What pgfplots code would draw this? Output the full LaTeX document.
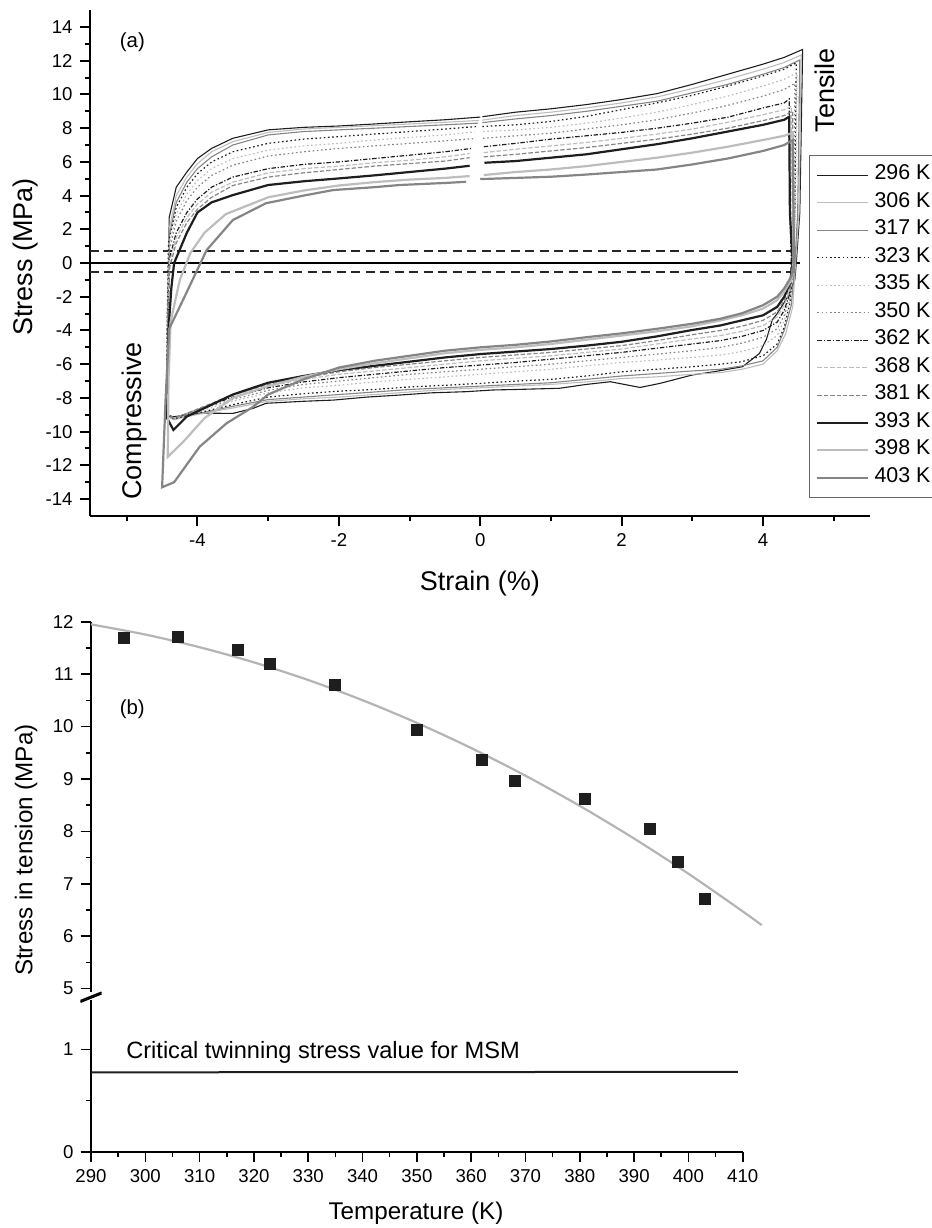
\documentclass[border=0pt]{standalone}
\usepackage{pgfplots}
\pgfplotsset{compat=1.18}
\usepackage{fontspec}
\setmainfont{Liberation Sans}
\definecolor{cdark}{HTML}{1E1E1E}
\definecolor{clight}{HTML}{BDBDBD}
\definecolor{cmid}{HTML}{858585}
\definecolor{cfit}{HTML}{B4B4B4}
\begin{document}
\begin{tikzpicture}
\pgfplotsset{
  every axis/.append style={
    scale only axis,
    /pgf/number format/assume math mode=true,
    tick label style={font=\fontsize{9.3}{11}\selectfont},
    tick align=outside,
    major tick length=5.2pt,
    minor tick length=2.7pt,
  },
}
% ---------------- panel (a) ----------------
\begin{axis}[
  name=A, at={(45pt,-257.95pt)}, anchor=south west,
  width=389.9pt, height=252.86pt,
  xmin=-5.52, xmax=5.51, ymin=-15, ymax=15,
  axis x line*=bottom, axis y line*=left,
  axis line style={line width=1.1pt},
  tick style={line width=1pt, black},
  xtick={-4,-2,0,2,4}, minor xtick={-5,-3,-1,1,3,5},
  ytick={-14,-12,...,14}, minor y tick num=1,
  xlabel={Strain (\%)}, ylabel={Stress (MPa)},
  label style={font=\fontsize{13.5}{16}\selectfont},
  xlabel style={at={(axis description cs:0.5,-0.1327)}, anchor=center},
  ylabel style={at={(axis description cs:-0.0830,0.512)}, anchor=center},
  clip=false,
  legend cell align=left,
  legend image code/.code={\draw[#1] (0pt,0pt) -- (25.5pt,0pt);},
  legend style={at={(0.9218,0.7135)}, anchor=north west,
    draw=black!60, line width=0.5pt, fill=white,
    font=\fontsize{10.7}{12}\selectfont,
    inner xsep=3.5pt, inner ysep=3pt, row sep=0pt,
    nodes={inner xsep=2.5pt, inner ysep=0pt, text height=9pt, text depth=4.75pt}},
]
\addplot[forget plot, black, line width=0.7pt] coordinates {(-5.52,0) (4.52,0)};
\addplot[forget plot, black!85, line width=1.15pt, dash pattern=on 4.5pt off 2.75pt] coordinates {(-5.52,0.73) (4.52,0.73)};
\addplot[forget plot, black!85, line width=1.15pt, dash pattern=on 4.5pt off 2.75pt] coordinates {(-5.52,-0.52) (4.52,-0.52)};
% 296 K
\addplot[cdark, line width=0.55pt] coordinates {
(0.03,8.68) (0.5,8.95) (1.0,9.15) (1.5,9.40) (2.0,9.70) (2.5,10.05) (3.0,10.60) (3.5,11.20) (4.0,11.80) (4.3,12.20) (4.56,12.67)
(4.52,3.0) (4.47,0.0) (4.45,-1.0) (4.35,-2.0) (4.2,-3.0) (4.13,-3.38) (4.05,-4.5) (3.95,-5.36) (3.71,-6.15) (3.3,-6.45) (3.0,-6.64) (2.54,-7.14) (2.26,-7.38) (1.84,-7.04) (1.5,-7.2) (1.12,-7.43) (0.5,-7.5) (0.18,-7.53) (-0.2,-7.63) (-0.7,-7.7) (-1.14,-7.83) (-1.6,-7.95) (-2.08,-8.13) (-2.5,-8.2) (-3.03,-8.32) (-3.22,-8.63) (-3.5,-8.92) (-3.97,-8.9) (-4.34,-9.12) (-4.44,-9.0)
(-4.42,-4.0) (-4.40,2.7) (-4.3,4.5) (-4.15,5.4) (-4.0,6.2) (-3.8,6.8) (-3.5,7.4) (-3.0,7.9) (-2.5,8.05) (-2.0,8.13) (-1.5,8.25) (-1.0,8.38) (-0.5,8.5) (0.0,8.66)};
\addlegendentry{296 K}
% 306 K
\addplot[clight, line width=0.55pt] coordinates {
(0.03,8.48) (0.5,8.75) (1.0,8.95) (1.5,9.20) (2.0,9.50) (2.5,9.85) (3.0,10.35) (3.5,10.90) (4.0,11.50) (4.3,11.90) (4.54,12.34)
(4.51,3.0) (4.46,0.0) (4.42,-2.6) (4.32,-4.2) (4.2,-5.2) (4.0,-6.0) (3.7,-6.3) (3.4,-6.5) (3.0,-6.6) (2.5,-6.75) (2.0,-6.85) (1.5,-7.05) (1.0,-7.2) (0.5,-7.3) (0.0,-7.4) (-0.5,-7.5) (-1.0,-7.65) (-1.5,-7.8) (-2.0,-7.95) (-2.5,-8.05) (-3.0,-8.2) (-3.5,-8.6) (-3.9,-8.9) (-4.2,-9.15) (-4.33,-9.3) (-4.43,-9.1)
(-4.42,-4.0) (-4.40,2.0) (-4.3,4.0) (-4.15,5.1) (-4.0,5.9) (-3.8,6.6) (-3.5,7.2) (-3.0,7.75) (-2.5,7.95) (-2.0,8.05) (-1.5,8.15) (-1.0,8.25) (-0.5,8.35) (-0.02,8.46)};
\addlegendentry{306 K}
% 317 K
\addplot[cmid, line width=0.55pt] coordinates {
(0.03,8.33) (0.5,8.55) (1.0,8.75) (1.5,9.0) (2.0,9.3) (2.5,9.6) (3.0,10.1) (3.5,10.6) (4.0,11.2) (4.3,11.6) (4.52,12.05)
(4.49,3.0) (4.45,0.0) (4.4,-2.5) (4.3,-4.0) (4.2,-5.0) (4.0,-5.8) (3.7,-6.1) (3.4,-6.3) (3.0,-6.4) (2.5,-6.55) (2.0,-6.7) (1.5,-6.9) (1.0,-7.1) (0.5,-7.2) (0.0,-7.3) (-0.5,-7.4) (-1.0,-7.5) (-1.5,-7.65) (-2.0,-7.8) (-2.5,-7.95) (-3.0,-8.1) (-3.5,-8.5) (-3.9,-8.85) (-4.2,-9.1) (-4.33,-9.25) (-4.43,-9.0)
(-4.42,-4.0) (-4.40,1.6) (-4.3,3.6) (-4.15,4.8) (-4.0,5.6) (-3.8,6.3) (-3.5,7.0) (-3.0,7.6) (-2.5,7.8) (-2.0,7.9) (-1.5,8.0) (-1.0,8.1) (-0.5,8.2) (-0.03,8.3)};
\addlegendentry{317 K}
% 323 K
\addplot[cdark, line width=0.6pt, dash pattern=on 0.8pt off 1.3pt] coordinates {
(0.03,8.1) (0.5,8.2) (1.0,8.4) (1.5,8.7) (2.0,9.1) (2.5,9.5) (3.0,9.95) (3.5,10.5) (4.0,11.1) (4.3,11.5) (4.47,11.88)
(4.45,3.0) (4.43,0.0) (4.38,-2.4) (4.3,-3.8) (4.2,-4.8) (4.0,-5.5) (3.7,-5.85) (3.4,-6.0) (3.0,-6.15) (2.5,-6.3) (2.0,-6.45) (1.5,-6.7) (1.0,-6.9) (0.5,-7.0) (0.0,-7.14) (-0.5,-7.25) (-1.0,-7.35) (-1.5,-7.5) (-2.0,-7.6) (-2.5,-7.75) (-3.0,-7.95) (-3.5,-8.4) (-3.9,-8.8) (-4.2,-9.1) (-4.33,-9.25) (-4.44,-9.0)
(-4.43,-4.0) (-4.41,1.2) (-4.3,3.3) (-4.15,4.5) (-4.0,5.3) (-3.8,6.0) (-3.5,6.6) (-3.0,7.1) (-2.5,7.35) (-2.0,7.5) (-1.5,7.65) (-1.0,7.8) (-0.5,7.95) (-0.05,8.1)};
\addlegendentry{323 K}
% 335 K
\addplot[clight, line width=0.6pt, dash pattern=on 0.8pt off 1.3pt] coordinates {
(0.04,7.8) (0.5,7.9) (1.0,8.05) (1.5,8.3) (2.0,8.6) (2.5,8.95) (3.0,9.4) (3.5,9.9) (4.0,10.5) (4.3,10.9) (4.48,11.29)
(4.46,3.0) (4.43,0.0) (4.38,-2.2) (4.3,-3.4) (4.2,-4.3) (4.0,-4.9) (3.7,-5.25) (3.4,-5.45) (3.0,-5.6) (2.5,-5.75) (2.0,-5.9) (1.5,-6.1) (1.0,-6.3) (0.5,-6.45) (0.0,-6.6) (-0.5,-6.75) (-1.0,-6.9) (-1.5,-7.05) (-2.0,-7.25) (-2.5,-7.4) (-3.0,-7.7) (-3.5,-8.2) (-3.9,-8.7) (-4.2,-9.1) (-4.33,-9.25) (-4.44,-9.0)
(-4.43,-4.0) (-4.41,0.8) (-4.3,2.9) (-4.15,4.1) (-4.0,4.9) (-3.8,5.6) (-3.5,6.2) (-3.0,6.7) (-2.5,6.95) (-2.0,7.1) (-1.5,7.3) (-1.0,7.45) (-0.5,7.6) (-0.08,7.78)};
\addlegendentry{335 K}
% 350 K
\addplot[cmid, line width=0.6pt, dash pattern=on 0.8pt off 1.3pt] coordinates {
(0.04,7.4) (0.5,7.55) (1.0,7.7) (1.5,7.95) (2.0,8.2) (2.5,8.5) (3.0,8.9) (3.5,9.35) (4.0,9.9) (4.3,10.3) (4.45,10.66)
(4.44,3.0) (4.42,0.0) (4.38,-2.0) (4.3,-3.1) (4.2,-3.9) (4.0,-4.4) (3.7,-4.75) (3.4,-5.0) (3.0,-5.2) (2.5,-5.4) (2.0,-5.6) (1.5,-5.8) (1.0,-6.0) (0.5,-6.15) (0.0,-6.3) (-0.5,-6.45) (-1.0,-6.6) (-1.5,-6.8) (-2.0,-7.0) (-2.5,-7.2) (-3.0,-7.55) (-3.5,-8.1) (-3.9,-8.6) (-4.2,-9.05) (-4.33,-9.2) (-4.44,-9.0)
(-4.43,-4.0) (-4.41,0.5) (-4.3,2.5) (-4.15,3.7) (-4.0,4.5) (-3.8,5.2) (-3.5,5.8) (-3.0,6.35) (-2.5,6.6) (-2.0,6.8) (-1.5,6.95) (-1.0,7.1) (-0.5,7.25) (-0.1,7.38)};
\addlegendentry{350 K}
% 362 K
\addplot[cdark, line width=0.6pt, dash pattern=on 2.2pt off 0.9pt on 0.6pt off 0.9pt] coordinates {
(0.05,6.9) (0.5,7.1) (1.0,7.35) (1.5,7.55) (2.0,7.75) (2.5,8.0) (3.0,8.3) (3.5,8.65) (4.0,9.2) (4.3,9.5) (4.37,9.73)
(4.38,3.0) (4.4,0.0) (4.38,-1.8) (4.3,-2.8) (4.2,-3.5) (4.0,-4.0) (3.7,-4.35) (3.4,-4.6) (3.0,-4.8) (2.5,-5.05) (2.0,-5.3) (1.5,-5.5) (1.0,-5.7) (0.5,-5.9) (0.0,-6.05) (-0.5,-6.2) (-1.0,-6.4) (-1.5,-6.6) (-2.0,-6.8) (-2.5,-7.05) (-3.0,-7.4) (-3.5,-7.95) (-3.9,-8.55) (-4.2,-9.0) (-4.33,-9.2) (-4.43,-9.0)
(-4.42,-4.0) (-4.4,0.2) (-4.3,1.8) (-4.15,3.0) (-4.0,3.8) (-3.8,4.5) (-3.5,5.1) (-3.0,5.6) (-2.5,5.85) (-2.0,6.0) (-1.5,6.2) (-1.0,6.4) (-0.5,6.6) (-0.12,6.8)};
\addlegendentry{362 K}
% 368 K
\addplot[clight, line width=0.6pt, dash pattern=on 2.2pt off 1pt] coordinates {
(0.05,6.55) (0.5,6.75) (1.0,6.95) (1.5,7.15) (2.0,7.4) (2.5,7.65) (3.0,7.95) (3.5,8.35) (4.0,8.8) (4.3,9.1) (4.4,9.3)
(4.41,3.0) (4.42,0.0) (4.38,-1.6) (4.3,-2.5) (4.2,-3.2) (4.0,-3.7) (3.7,-4.05) (3.4,-4.3) (3.0,-4.5) (2.5,-4.8) (2.0,-5.1) (1.5,-5.3) (1.0,-5.5) (0.5,-5.65) (0.0,-5.8) (-0.5,-6.0) (-1.0,-6.2) (-1.5,-6.4) (-2.0,-6.6) (-2.5,-6.9) (-3.0,-7.3) (-3.5,-7.85) (-3.9,-8.5) (-4.2,-9.0) (-4.33,-9.2) (-4.43,-9.0)
(-4.42,-4.0) (-4.4,0.0) (-4.3,1.5) (-4.15,2.7) (-4.0,3.5) (-3.8,4.2) (-3.5,4.8) (-3.0,5.35) (-2.5,5.6) (-2.0,5.75) (-1.5,5.95) (-1.0,6.1) (-0.5,6.3) (-0.15,6.5)};
\addlegendentry{368 K}
% 381 K
\addplot[cmid, line width=0.6pt, dash pattern=on 2.2pt off 1pt] coordinates {
(0.05,6.3) (0.5,6.45) (1.0,6.65) (1.5,6.85) (2.0,7.1) (2.5,7.35) (3.0,7.65) (3.5,8.0) (4.0,8.45) (4.3,8.75) (4.42,9.0)
(4.43,3.0) (4.43,0.0) (4.38,-1.4) (4.3,-2.2) (4.2,-2.9) (4.0,-3.4) (3.7,-3.75) (3.4,-4.0) (3.0,-4.25) (2.5,-4.6) (2.0,-4.9) (1.5,-5.1) (1.0,-5.3) (0.5,-5.45) (0.0,-5.6) (-0.5,-5.8) (-1.0,-6.0) (-1.5,-6.2) (-2.0,-6.45) (-2.5,-6.8) (-3.0,-7.2) (-3.5,-7.8) (-3.9,-8.5) (-4.2,-9.0) (-4.33,-9.2) (-4.43,-9.0)
(-4.42,-4.0) (-4.39,-0.2) (-4.3,1.2) (-4.15,2.4) (-4.0,3.2) (-3.8,3.9) (-3.5,4.6) (-3.0,5.1) (-2.5,5.35) (-2.0,5.55) (-1.5,5.75) (-1.0,5.9) (-0.5,6.05) (-0.15,6.25)};
\addlegendentry{381 K}
% 393 K
\addplot[cdark, line width=1.1pt] coordinates {
(0.06,5.95) (0.5,6.05) (1.0,6.25) (1.5,6.45) (2.0,6.75) (2.5,7.05) (3.0,7.4) (3.5,7.8) (4.0,8.2) (4.3,8.5) (4.37,8.68)
(4.38,3.0) (4.42,0.0) (4.38,-1.2) (4.3,-2.0) (4.2,-2.6) (4.0,-3.1) (3.7,-3.4) (3.4,-3.7) (3.0,-3.97) (2.5,-4.35) (2.0,-4.67) (1.5,-4.9) (1.0,-5.1) (0.5,-5.25) (0.0,-5.4) (-0.5,-5.6) (-1.0,-5.85) (-1.5,-6.1) (-2.0,-6.35) (-2.5,-6.7) (-3.0,-7.1) (-3.5,-7.8) (-3.9,-8.6) (-4.15,-9.1) (-4.34,-9.9) (-4.43,-9.2)
(-4.41,-4.0) (-4.37,-1.5) (-4.33,0.0) (-4.15,1.8) (-4.0,3.0) (-3.8,3.6) (-3.5,4.03) (-3.0,4.63) (-2.5,4.85) (-2.0,5.02) (-1.5,5.2) (-1.0,5.4) (-0.5,5.6) (-0.15,5.77)};
\addlegendentry{393 K}
% 398 K
\addplot[clight, line width=1.1pt] coordinates {
(0.05,5.22) (0.5,5.4) (1.0,5.55) (1.5,5.75) (2.0,6.0) (2.5,6.25) (3.0,6.55) (3.5,6.9) (4.0,7.3) (4.3,7.55) (4.42,7.73)
(4.43,3.0) (4.43,0.0) (4.4,-1.0) (4.3,-1.7) (4.2,-2.2) (4.0,-2.7) (3.7,-3.1) (3.4,-3.4) (3.0,-3.75) (2.5,-4.05) (2.0,-4.3) (1.5,-4.55) (1.0,-4.8) (0.5,-5.0) (0.0,-5.15) (-0.5,-5.35) (-1.0,-5.65) (-1.5,-5.95) (-2.0,-6.3) (-2.5,-6.75) (-3.0,-7.3) (-3.5,-8.0) (-3.9,-9.2) (-4.2,-10.6) (-4.42,-11.5)
(-4.41,-7.0) (-4.38,-3.5) (-4.25,-1.0) (-4.1,0.6) (-3.9,1.8) (-3.6,2.9) (-3.0,3.9) (-2.5,4.3) (-2.0,4.6) (-1.5,4.8) (-1.0,4.95) (-0.5,5.05) (-0.15,5.16)};
\addlegendentry{398 K}
% 403 K
\addplot[cmid, line width=1.1pt] coordinates {
(0.0,4.98) (0.5,5.05) (1.0,5.12) (1.5,5.25) (2.0,5.4) (2.5,5.55) (3.0,5.85) (3.5,6.2) (4.0,6.65) (4.3,7.0) (4.42,7.3)
(4.43,3.0) (4.44,0.0) (4.4,-0.8) (4.3,-1.5) (4.2,-2.0) (4.0,-2.5) (3.7,-2.98) (3.4,-3.3) (3.0,-3.6) (2.5,-3.9) (2.0,-4.17) (1.5,-4.4) (1.0,-4.65) (0.5,-4.85) (0.0,-5.0) (-0.5,-5.2) (-1.0,-5.5) (-1.5,-5.8) (-2.0,-6.2) (-2.5,-6.9) (-3.0,-7.8) (-3.22,-8.55) (-3.59,-9.51) (-3.97,-10.9) (-4.33,-13.0) (-4.5,-13.3)
(-4.45,-8.0) (-4.4,-3.9) (-4.16,-1.8) (-3.87,0.77) (-3.5,2.55) (-3.03,3.55) (-2.5,4.0) (-2.08,4.33) (-1.5,4.5) (-1.14,4.63) (-0.5,4.75) (-0.2,4.82)};
\addlegendentry{403 K}
\node[font=\fontsize{10.2}{12}\selectfont] at (axis cs:-4.92,13.08) {(a)};
\node[rotate=90, font=\fontsize{13.5}{16}\selectfont] at (axis cs:4.87,10.26) {Tensile};
\node[rotate=90, font=\fontsize{13.5}{16}\selectfont] at (axis cs:-4.89,-9.37) {Compressive};
\end{axis}
% ---------------- panel (b), upper part ----------------
\begin{axis}[
  name=B1, at={(45.5pt,-496.1pt)}, anchor=south west,
  width=325.85pt, height=185.23pt,
  xmin=290, xmax=410, ymin=4.93, ymax=12,
  axis x line=none, axis y line*=left,
  axis line style={line width=0.9pt},
  tick style={line width=0.8pt, black},
  ytick={5,6,...,12}, minor y tick num=1,
  ylabel={Stress in tension (MPa)},
  label style={font=\fontsize{12.1}{14}\selectfont},
  ylabel style={at={(axis description cs:-0.0997,0.3835)}, anchor=center},
  clip=false,
]
\addplot[cfit, line width=1.1pt, smooth] coordinates {
(290,11.95) (300,11.756) (310,11.514) (320,11.225) (330,10.888) (340,10.503) (350,10.07) (360,9.59) (370,9.062) (380,8.486) (390,7.863) (400,7.192) (410,6.473) (413.5,6.21)};
\addplot[only marks, mark=square*, mark size=2.75pt, cdark] coordinates {
(296,11.70) (306,11.71) (317,11.46) (323,11.19) (335,10.79) (350,9.93) (362,9.36) (368,8.97) (381,8.61) (393,8.04) (398,7.41) (403,6.71)};
\node[font=\fontsize{10.2}{12}\selectfont] at (axis cs:297.6,10.33) {(b)};
\end{axis}
% ---------------- panel (b), lower part ----------------
\begin{axis}[
  name=B2, at={(45.5pt,-575.85pt)}, anchor=south west,
  width=325.85pt, height=75.78pt,
  xmin=290, xmax=410, ymin=0, ymax=1.48,
  axis x line*=bottom, axis y line*=left,
  axis line style={line width=0.9pt},
  tick style={line width=0.8pt, black},
  xtick={290,300,...,410}, minor x tick num=1,
  ytick={0,1}, minor ytick={0.5},
  xlabel={Temperature (K)},
  label style={font=\fontsize{12.1}{14}\selectfont},
  xlabel style={at={(axis description cs:0.4987,-0.404)}, anchor=center},
  clip=false,
]
\addplot[cdark, line width=1pt] coordinates {(290,0.775) (409.1,0.78)};
\node[anchor=base west, font=\fontsize{11.8}{14}\selectfont] at (axis cs:295.2,0.915) {Critical twinning stress value for MSM};
\end{axis}
% axis break marks
\draw[line width=0.8pt] ([xshift=-5.25pt,yshift=-4.2pt]B1.south west) -- ([xshift=5.25pt,yshift=0pt]B1.south west);
\draw[line width=0.8pt] ([xshift=-5.25pt,yshift=-1pt]B2.north west) -- ([xshift=5.25pt,yshift=3.2pt]B2.north west);
\pgfresetboundingbox
\path[use as bounding box] (0pt,0pt) rectangle (466pt,-614pt);
\end{tikzpicture}
\end{document}
